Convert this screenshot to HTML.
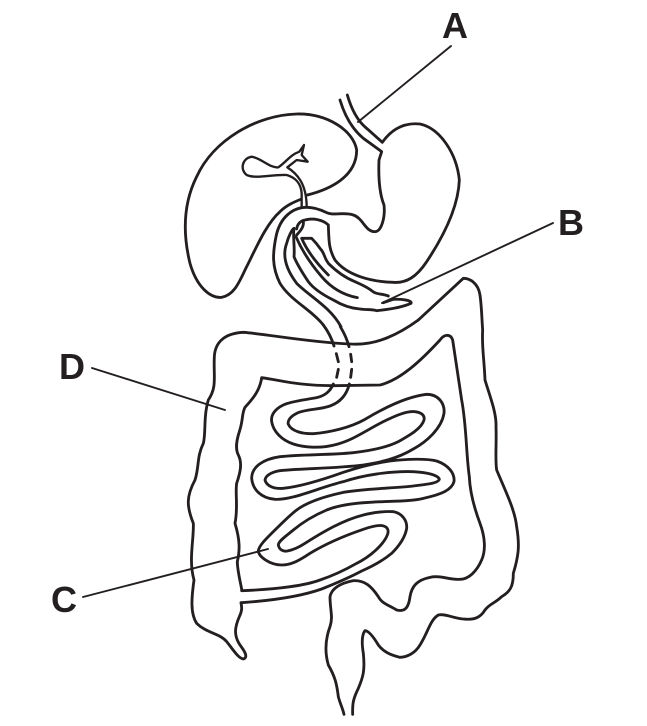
<!DOCTYPE html>
<html><head><meta charset="utf-8"><style>
html,body{margin:0;padding:0;background:#fff}
svg{display:block}
text{font-family:"Liberation Sans",sans-serif;font-weight:700;font-size:36px;fill:#231f20}
path,line{fill:none;stroke:#231f20;stroke-linecap:round;stroke-linejoin:round}
</style></head><body>
<svg width="647" height="726" viewBox="0 0 647 726" xmlns="http://www.w3.org/2000/svg">
<text x="455" y="38" text-anchor="middle">A</text>
<text x="571" y="235" text-anchor="middle">B</text>
<text x="64" y="612" text-anchor="middle">C</text>
<text x="72" y="379" text-anchor="middle">D</text>
<g stroke-width="1.9">
<line x1="451" y1="46" x2="358" y2="122"/>
<line x1="553" y1="223" x2="382" y2="303"/>
<line x1="83" y1="597" x2="268" y2="549"/>
<line x1="92" y1="368" x2="225" y2="410"/>
</g>
<!-- upper organs -->
<g transform="translate(180,80) scale(.33333)" stroke-width="8.5">
<path d="M382,345 C450,328 530,290 530,210 C520,150 440,100 350,102 C230,105 100,180 50,290 C10,370 8,460 30,550 C50,620 90,655 125,652 C165,645 180,600 200,560 C230,500 260,430 300,395 C320,375 345,365 362,358"/>
<path d="M480,60 C495,110 520,150 550,175 L605,215 L597,240 C595,290 598,340 612,375 C616,410 605,455 585,455 C555,455 550,415 520,405 C490,395 460,408 440,398 C420,388 400,382 380,382 C340,382 300,410 288,470 C278,520 275,560 300,610 C330,660 395,690 430,735"/>
<path d="M502,45 C515,90 535,125 560,145 L607,187 C640,140 680,128 720,132 C780,145 830,220 838,300 C835,380 790,470 740,545 C710,590 680,610 640,607 C570,605 500,585 465,540 C445,505 447,480 445,435 C430,420 400,413 375,420 C362,422 352,432 350,447"/>
<path d="M370,425 C372,440 362,452 350,465"/>
<path d="M483,740 C450,680 390,650 350,610 C320,570 305,530 320,490 C325,470 335,450 342,445 C338,470 345,500 342,530 C350,550 365,575 385,605 C400,625 430,645 460,660 C480,672 510,685 540,687 C560,690 575,687 590,692 C610,690 660,685 693,670 C698,660 660,657 640,658 L610,668"/>
<path d="M625,648 C605,640 590,645 575,632 C560,620 540,612 525,605 C500,595 470,575 445,550 C430,530 435,520 420,505 C410,490 405,485 395,475 L365,475 C380,510 410,550 445,585"/>
<path d="M348,470 C365,510 395,555 425,590 C455,625 490,645 532,653"/>
<path d="M365,382 L365,340 C363,310 345,292 320,285 C280,282 230,298 200,285 C180,270 185,235 215,230 C245,235 270,265 295,262 C320,245 330,225 358,215 L372,195 L365,225 L383,245 L350,240 L322,262 C350,280 380,310 380,382" stroke-width="7"/>
</g>
<!-- large intestine -->
<g transform="translate(180,320) scale(.33333)" stroke-width="8.5">
<path d="M715,0 L850,-125 C870,-125 895,-110 900,-75 C905,-40 905,-10 908,30 C905,80 912,110 915,180 C930,230 950,280 948,320 C950,370 945,420 950,450 C975,510 1005,570 1010,620 C1020,680 1015,710 1000,760 C1000,800 990,815 965,830 C945,850 930,850 915,870 C900,895 880,900 850,897 C820,895 795,880 775,885 C750,900 745,935 720,975 C705,1000 680,1012 660,1012 C630,1005 610,995 595,975 C580,950 565,932 555,932 C545,945 545,970 550,1000 C555,1050 550,1070 535,1105 C520,1135 517,1150 518,1183"/>
<path d="M715,0 C660,40 590,78 510,72 C380,66 260,42 190,37 C130,40 105,70 103,110 C100,170 112,200 85,240 C70,290 78,340 70,370 C50,410 58,440 45,480 C18,530 20,560 40,610 C42,660 25,720 42,780 C35,830 30,880 50,910 C80,940 120,940 140,965 C160,990 175,1015 190,1017 C205,1012 195,995 180,975 C160,945 165,920 178,890 C190,865 183,855 183,848"/>
<path d="M185,808 C180,780 172,750 172,725 C180,690 180,660 165,610 C175,560 165,520 170,490 C180,460 188,430 175,405 C165,385 170,360 178,335 C190,300 185,280 195,262 C220,235 240,210 245,173 C300,180 350,197 460,197 L600,195 C660,180 720,125 780,60 C790,45 810,38 818,60 C825,110 835,170 845,240 C860,320 858,400 868,470 C870,520 885,570 900,610 C915,650 918,690 905,720 C890,755 865,778 840,778 C810,780 780,765 750,772 C710,780 695,800 690,830 C685,870 670,875 650,870 C625,855 605,850 595,830 C575,800 555,780 520,782 C480,790 455,805 450,830 C450,870 460,890 450,920 C435,960 435,1000 445,1035 C465,1070 470,1090 475,1130 C480,1150 488,1165 492,1183"/>
</g>
<!-- duodenum crossing -->
<g transform="translate(280,320) scale(.33333)" stroke-width="8.5">
<path d="M130,15 C145,35 155,55 162,78"/>
<path d="M181,20 C193,40 202,60 207,80"/>
<path d="M169,101 L175,125 M175,148 L170,172"/>
<path d="M212,103 L215,125 M215,148 L212,172"/>
</g>
<!-- small intestine -->
<g transform="translate(250,385) scale(.33333)" stroke-width="8.5">
<path d="M250,-3 C240,20 225,32 200,38 C165,45 125,48 100,60 C75,72 62,90 65,110 C70,140 95,165 130,177 C160,187 210,192 260,178 C310,165 350,135 400,110 C440,90 470,78 495,80 C515,82 525,92 522,105 C515,130 480,150 445,170 C410,188 360,197 310,203 C240,210 160,208 90,215 C40,222 5,245 5,280 C8,315 35,340 75,343 C130,345 200,310 280,290 C340,270 420,258 490,260 C530,262 565,270 568,283 C565,295 530,298 490,303 C430,310 350,310 280,322 C220,335 170,352 140,375 C120,390 95,415 70,440 C50,460 28,480 25,497 C25,515 60,540 95,540 C125,540 150,525 180,505 C230,475 290,450 340,433 C365,424 385,420 397,422 C412,425 418,435 412,450 C400,480 360,515 320,535 C280,558 240,575 210,585 C170,600 90,613 -25,617"/>
<path d="M298,-3 C290,30 270,52 240,63 C205,75 165,72 140,85 C120,95 112,108 115,118 C125,140 160,147 190,146 C240,142 300,128 345,103 C400,70 470,35 530,28 C565,28 585,55 582,85 C575,130 530,170 490,192 C440,222 390,232 340,240 C260,250 170,250 100,256 C70,258 47,270 45,285 C50,305 75,312 100,310 C150,305 210,287 280,262 C330,245 370,235 420,228 C470,222 530,220 560,228 C595,240 615,265 612,290 C605,315 575,328 520,340 C480,350 420,348 360,352 C300,355 255,365 230,375 C195,390 160,410 130,435 C110,452 85,468 85,480 C88,495 100,500 112,498 C130,495 145,488 165,475 C220,440 280,405 340,390 C370,382 410,378 430,380 C455,385 472,405 470,430 C465,460 445,485 425,505 C395,530 365,545 335,558 C290,582 250,598 215,612 C170,628 90,645 -25,653"/>
</g>
</svg>
</body></html>
